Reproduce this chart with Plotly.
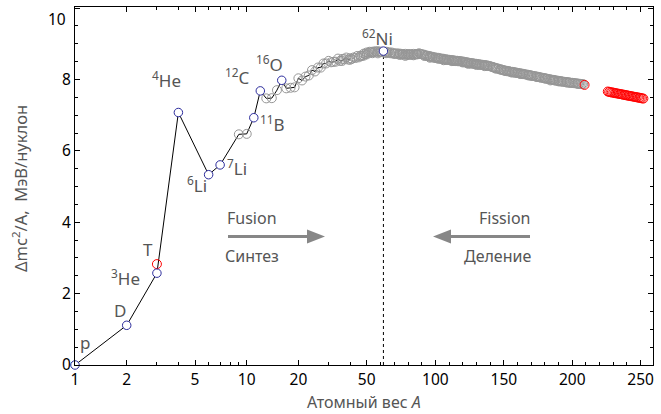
import numpy as np
import plotly.graph_objects as go

# ---- data: binding energy per nucleon (MeV) vs mass number A ----
# labelled light nuclei and 62Ni
marked_names = ["p", "D", "<sup>3</sup>He", "<sup>4</sup>He", "<sup>6</sup>Li", "<sup>7</sup>Li",
                "<sup>11</sup>B", "<sup>12</sup>C", "<sup>16</sup>O", "<sup>62</sup>Ni"]
marked_A = [1, 2, 3, 4, 6, 7, 11, 12, 16, 62]
marked_BA = [0.0, 1.112, 2.573, 7.074, 5.332, 5.606, 6.928, 7.680, 7.976, 8.795]

# tritium (unstable)
tritium_A = [3]
tritium_BA = [2.827]

# stable nuclides (one per mass number)
stable_A = [9, 10, 13, 14, 15, 17, 18, 19, 20, 21, 22, 23, 24, 25, 26, 27, 28, 29, 30,
            31, 32, 33, 34, 35, 36, 37, 38, 39, 40, 41, 42, 43, 44, 45, 46, 47, 48, 49, 50,
            51, 52, 53, 54, 55, 56, 57, 58, 59, 60, 61, 63, 64, 65, 66, 67, 68, 69, 70,
            71, 72, 73, 74, 75, 76, 77, 78, 79, 80, 81, 82, 83, 84, 85, 86, 87, 88, 89, 90,
            91, 92, 93, 94, 95, 96, 97, 98, 99, 100, 101, 102, 103, 104, 105, 106, 107, 108,
            109, 110, 111, 112, 113, 114, 115, 116, 117, 118, 119, 120, 121, 122, 123, 124,
            125, 126, 127, 128, 129, 130, 131, 132, 133, 134, 135, 136, 137, 138, 139, 140,
            141, 142, 143, 144, 145, 146, 147, 148, 149, 150, 151, 152, 153, 154, 155, 156,
            157, 158, 159, 160, 161, 162, 163, 164, 165, 166, 167, 168, 169, 170, 171, 172,
            173, 174, 175, 176, 177, 178, 179, 180, 181, 182, 183, 184, 185, 186, 187, 188,
            189, 190, 191, 192, 193, 194, 195, 196, 197, 198, 199, 200, 201, 202, 203, 204,
            205, 206, 207, 208]
stable_BA = [6.463, 6.475, 7.470, 7.476, 7.700, 7.751, 7.767, 7.779, 8.032, 7.972, 8.081,
             8.112, 8.261, 8.224, 8.334, 8.332, 8.448, 8.449, 8.521,
             8.481, 8.493, 8.498, 8.584, 8.520, 8.520, 8.570, 8.614, 8.557, 8.551,
             8.576, 8.617, 8.601, 8.658, 8.619, 8.657, 8.661, 8.723, 8.711, 8.756,
             8.742, 8.776, 8.760, 8.736, 8.765, 8.790, 8.770, 8.732, 8.768, 8.781, 8.765,
             8.752, 8.778, 8.757, 8.760, 8.734, 8.756, 8.725, 8.722,
             8.718, 8.732, 8.705, 8.725, 8.701, 8.712, 8.695, 8.718, 8.688, 8.711,
             8.696, 8.711, 8.696, 8.717, 8.697, 8.712, 8.705, 8.733, 8.714, 8.710,
             8.693, 8.693, 8.664, 8.667, 8.649, 8.654, 8.635, 8.635, 8.609, 8.619,
             8.601, 8.607, 8.584, 8.585, 8.571, 8.580, 8.554, 8.567,
             8.548, 8.551, 8.537, 8.545, 8.527, 8.532, 8.517, 8.523, 8.510, 8.517,
             8.499, 8.505, 8.482, 8.478, 8.472, 8.473,
             8.458, 8.463, 8.446, 8.449, 8.431, 8.438, 8.424, 8.428, 8.410, 8.408,
             8.398, 8.403, 8.392, 8.393, 8.378, 8.376,
             8.354, 8.346, 8.331, 8.327, 8.309, 8.304, 8.281, 8.280, 8.264, 8.262,
             8.239, 8.244, 8.229, 8.225, 8.213, 8.215,
             8.204, 8.202, 8.189, 8.184, 8.173, 8.174, 8.162, 8.159, 8.147, 8.142,
             8.132, 8.130, 8.115, 8.107, 8.097, 8.097,
             8.087, 8.084, 8.069, 8.061, 8.052, 8.049, 8.039, 8.035, 8.023, 8.018,
             8.008, 8.005, 7.991, 7.983, 7.974, 7.974,
             7.963, 7.962, 7.948, 7.943, 7.938, 7.936, 7.927, 7.927, 7.916, 7.914,
             7.905, 7.906, 7.898, 7.897, 7.886, 7.880,
             7.878, 7.875, 7.870, 7.868]

# further stable isobars
isobar_A = [36, 40, 46, 48, 50, 54, 58, 64, 70, 74, 76, 78, 80, 82, 84, 86, 87, 92, 94,
            96, 96, 98, 100, 102, 104, 106, 108, 110, 112, 113, 114, 115, 116, 120, 122,
            123, 124, 124, 126, 128, 130, 130, 132, 134, 136, 136, 138, 142, 144, 148, 150,
            152, 154, 156, 158, 160, 162, 164, 168, 170, 174, 176, 180, 184, 186, 187, 190,
            192, 196, 198, 204]
isobar_BA = [8.575, 8.595, 8.669, 8.666, 8.701, 8.778, 8.792, 8.736, 8.730, 8.688, 8.705,
             8.661, 8.693, 8.693, 8.678, 8.709, 8.711, 8.658, 8.662,
             8.635, 8.609, 8.620, 8.605, 8.580, 8.587, 8.539, 8.550, 8.547, 8.514, 8.523,
             8.523, 8.514, 8.512, 8.477, 8.488,
             8.466, 8.467, 8.438, 8.444, 8.443, 8.430, 8.406, 8.409, 8.414, 8.396, 8.374,
             8.377, 8.347, 8.304, 8.277, 8.250,
             8.233, 8.227, 8.192, 8.190, 8.183, 8.152, 8.149, 8.112, 8.112, 8.069, 8.064,
             8.026, 7.973, 7.989, 7.978, 7.947,
             7.949, 7.914, 7.912, 7.886]

# long-lived heavy nuclides
heavy_A = [209, 226, 227, 228, 229, 230, 231, 232, 233, 234, 235, 236, 237, 238, 239, 240,
           241, 242, 243, 244, 245, 246, 247, 248, 249, 250, 251, 252]
heavy_BA = [7.848, 7.662, 7.651, 7.642, 7.635, 7.631, 7.618, 7.615, 7.604, 7.600, 7.591,
            7.586, 7.575, 7.570, 7.560, 7.556, 7.543, 7.541, 7.530, 7.525, 7.516, 7.511,
            7.501, 7.497, 7.484, 7.483, 7.470, 7.465]

tick_A = [1, 2, 5, 10, 20, 50, 100, 150, 200, 250]
tick_text = ["1", "2", "5", "10", "20", "50", "100", "150", "200", "250"]
minor_A = [3, 4, 6, 7, 8, 9, 30, 40, 60, 70, 80, 90] + \
          [a for a in range(110, 260, 10) if a % 50]

# ---- log-linear mass axis: logarithmic up to A0, then linear with matching slope ----
A0 = 54.5


def xmap(a):
    a = np.asarray(a, dtype=float)
    return np.where(a <= A0, np.log(a), np.log(A0) + (a - A0) / A0)


# chain of light nuclei joined by a line (up to A = 40)
chain = sorted([(a, b) for a, b in zip(marked_A, marked_BA) if a <= 40] +
               [(a, b) for a, b in zip(stable_A, stable_BA) if a <= 40])
chain_A = [c[0] for c in chain]
chain_BA = [c[1] for c in chain]

GRAY = "rgb(150,150,150)"
BLUE = "#2b2b9c"
RED = "#ff0000"
TXT = "#555555"
FONT = "Noto Sans"

fig = go.Figure()

fig.add_trace(go.Scatter(x=xmap(chain_A), y=chain_BA, mode="lines",
                         line=dict(color="black", width=1), hoverinfo="skip"))

ni_A = marked_A[-1]
ni_BA = marked_BA[-1]
fig.add_trace(go.Scatter(x=xmap([ni_A, ni_A]), y=[0, ni_BA], mode="lines",
                         line=dict(color="black", width=1, dash="dot"), hoverinfo="skip"))

fig.add_trace(go.Scatter(x=xmap(stable_A + isobar_A), y=stable_BA + isobar_BA,
                         mode="markers", cliponaxis=False,
                         marker=dict(symbol="circle-open", size=9, color=GRAY,
                                     line=dict(width=1))))

fig.add_trace(go.Scatter(x=xmap(tritium_A + heavy_A), y=tritium_BA + heavy_BA,
                         mode="markers", cliponaxis=False,
                         marker=dict(symbol="circle-open", size=9, color=RED,
                                     line=dict(width=1))))

fig.add_trace(go.Scatter(x=xmap(marked_A), y=marked_BA, mode="markers", cliponaxis=False,
                         marker=dict(symbol="circle", size=8.5, color="white",
                                     line=dict(color=BLUE, width=1))))

# nuclide labels, offset in pixels from their points
label_shift = {
    "p": (10, 23), "D": (-7, 15), "<sup>3</sup>He": (-31, -4), "<sup>4</sup>He": (-12, 33),
    "<sup>6</sup>Li": (-12, -10), "<sup>7</sup>Li": (17, -3), "<sup>11</sup>B": (19, -6),
    "<sup>12</sup>C": (-23, 14), "<sup>16</sup>O": (-12, 17), "<sup>62</sup>Ni": (-6, 14),
}
annotations = []
for name, a, b in zip(marked_names, marked_A, marked_BA):
    dx, dy = label_shift[name]
    annotations.append(dict(x=float(xmap(a)), y=b, xref="x", yref="y", text=name,
                            showarrow=False, xshift=dx, yshift=dy,
                            font=dict(family=FONT, size=17, color=TXT)))
annotations.append(dict(x=float(xmap(tritium_A[0])), y=tritium_BA[0], xref="x", yref="y",
                        text="T", showarrow=False, xshift=-9, yshift=15,
                        font=dict(family=FONT, size=17, color=TXT)))

# plot-area geometry in pixels (for paper-positioned decorations)
L, R, T, B = 75, 8, 7, 49
W, H = 661, 414
PW, PH = W - L - R, H - T - B


def px(xp):
    return (xp - L) / PW


def py(yp):
    return (H - B - yp) / PH


for txt, xp, yp in [("Fusion", 252, 218), ("Синтез", 252, 256),
                    ("Fission", 504, 218), ("Деление", 497, 256)]:
    annotations.append(dict(x=px(xp), y=py(yp), xref="paper", yref="paper", text=txt,
                            showarrow=False, xanchor="center", yanchor="middle",
                            font=dict(family=FONT, size=16, color=TXT)))

# axis titles
annotations.append(dict(x=px(364), y=py(402), xref="paper", yref="paper",
                        text="Атомный вес <i>A</i>", showarrow=False,
                        xanchor="center", yanchor="middle",
                        font=dict(family=FONT, size=16, color=TXT)))
annotations.append(dict(x=px(20), y=py(189), xref="paper", yref="paper",
                        text="Δmc<sup>2</sup>/A,  МэВ/нуклон", showarrow=False,
                        textangle=-90, xanchor="center", yanchor="middle",
                        font=dict(family=FONT, size=16.5, color=TXT)))
# top y label sits slightly below the frame
annotations.append(dict(x=px(68), y=py(19), xref="paper", yref="paper", text="10",
                        showarrow=False, xanchor="right", yanchor="middle",
                        font=dict(family=FONT, size=15.5, color="black")))

# fusion / fission arrows
ARROW = "rgb(135,135,135)"
shapes = []
ya = 236.5
for tail, base, tip in [(228, 309, 325), (530, 449, 433)]:
    back = base - (2 if tip > base else -2)
    shapes.append(dict(type="line", xref="paper", yref="paper",
                       x0=px(tail), x1=px(base), y0=py(ya), y1=py(ya),
                       line=dict(color=ARROW, width=3)))
    shapes.append(dict(type="path", xref="paper", yref="paper",
                       path=f"M{px(tip)},{py(ya)} L{px(back)},{py(ya - 7)} "
                            f"L{px(back)},{py(ya + 7)} Z",
                       fillcolor=ARROW, line=dict(width=0)))

axis_common = dict(showline=True, linecolor="black", linewidth=1.3, mirror="ticks",
                   ticks="inside", ticklen=5, tickwidth=1, tickcolor="black",
                   showgrid=False, zeroline=False,
                   tickfont=dict(family=FONT, size=15.5, color="black"))

fig.update_layout(
    width=W, height=H, margin=dict(l=L, r=R, t=T, b=B),
    paper_bgcolor="white", plot_bgcolor="white", showlegend=False,
    annotations=annotations, shapes=shapes,
    xaxis=dict(range=[0, 7.751], tickmode="array", tickvals=xmap(tick_A).tolist(),
               ticktext=tick_text,
               minor=dict(tickmode="array", tickvals=xmap(minor_A).tolist(),
                          ticks="inside", ticklen=3, tickcolor="black"),
               **axis_common),
    yaxis=dict(range=[0, 10.03], tickmode="array", tickvals=[0, 2, 4, 6, 8, 10],
               ticktext=["0", "2", "4", "6", "8", ""],
               minor=dict(tickmode="array", tickvals=[v / 2 for v in range(1, 21) if v % 4],
                          ticks="inside", ticklen=3, tickcolor="black"),
               **axis_common),
)

fig.write_html("out.html")
